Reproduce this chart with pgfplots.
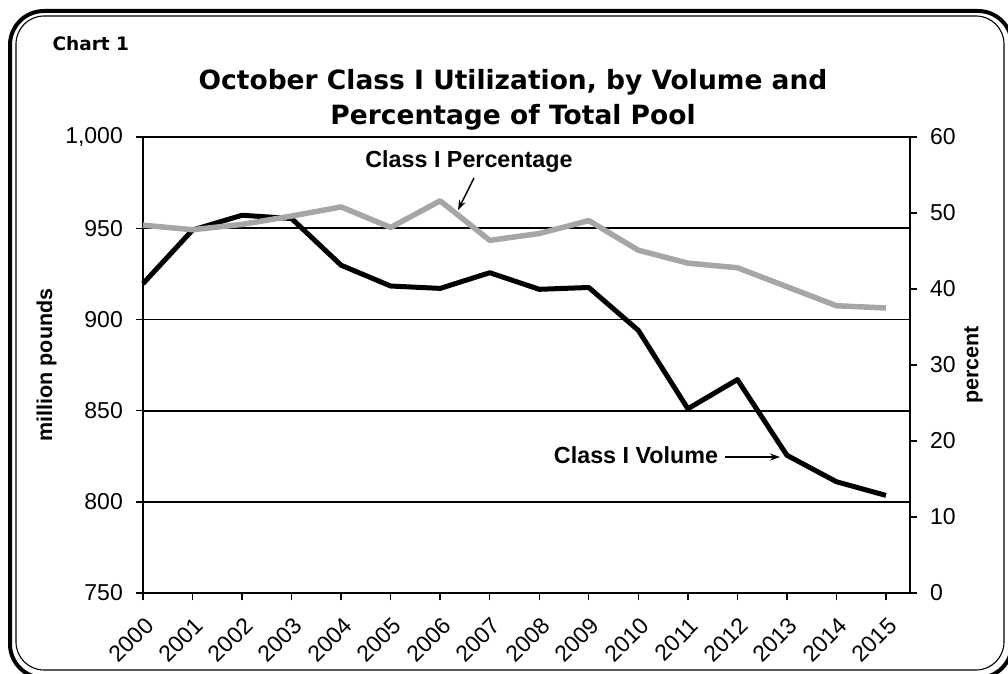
\documentclass[border=0pt]{standalone}
\usepackage{fontspec}
\setmainfont{Liberation Sans}
\newfontfamily\titlefont{DejaVu Sans}
\usepackage{pgfplots}
\pgfplotsset{compat=1.18}
\usetikzlibrary{arrows.meta}
\definecolor{pctgray}{HTML}{A6A6A6}

\begin{document}
\begin{tikzpicture}
\path[use as bounding box] (0pt,0pt) rectangle (1008pt,673pt);
\begin{scope}[x=1pt,y=1pt]
% frame
\begin{scope}
\clip (0,0) rectangle (1008,673);
\draw[line width=4pt, rounded corners=34pt] (10,-5) rectangle (1012,662);
\draw[line width=1.1pt, rounded corners=28pt] (16,3) rectangle (1004,657);
\end{scope}
\node[font=\titlefont\bfseries\fontsize{18.5}{22}\selectfont, anchor=west] at (49,629) {Chart 1};
\node[font=\titlefont\bfseries\fontsize{26.5}{35}\selectfont, align=center] at (513,573)
  {October Class I Utilization, by Volume and\\Percentage of Total Pool};
\end{scope}

% left axis: volume
\begin{axis}[
  at={(143pt,80pt)}, anchor=south west,
  width=767pt, height=456pt, scale only axis,
  xmin=2000, xmax=2015.485,
  ymin=750, ymax=1000,
  xtick={2000,2001,...,2015},
  ytick={750,800,...,1000},
  xtick pos=bottom, ytick pos=left,
  tick align=outside,
  major tick length=7pt,
  tick style={black, line width=1.4pt},
  axis line style={black, line width=2.2pt},
  ymajorgrids, grid style={black, line width=1.8pt},
  /pgf/number format/assume math mode=true,
  xticklabel shift=15pt,
  x tick label style={/pgf/number format/1000 sep={}, rotate=45, anchor=north east,
    font=\fontsize{23}{26}\selectfont, inner sep=1pt, xshift=1pt},
  y tick label style={font=\fontsize{23}{26}\selectfont, inner sep=5pt, xshift=-8pt},
  ylabel={million pounds},
  ylabel style={font=\bfseries\fontsize{21.5}{25}\selectfont},
  clip=false,
]
\addplot[black, line width=5pt, line join=round] coordinates {
  (2000,919.6) (2001,949.0) (2002,957.1) (2003,955.3) (2004,929.7)
  (2005,918.3) (2006,917.0) (2007,925.6) (2008,916.5) (2009,917.5)
  (2010,894.0) (2011,851.0) (2012,867.0) (2013,825.5) (2014,811.0)
  (2015,803.5)
};
\end{axis}

% right axis: percent
\begin{axis}[
  at={(143pt,80pt)}, anchor=south west,
  width=767pt, height=456pt, scale only axis,
  xmin=2000, xmax=2015.485,
  ymin=0, ymax=60,
  ytick={0,10,...,60},
  axis x line=none,
  axis y line*=right,
  tick align=outside,
  major tick length=7pt,
  tick style={black, line width=1.4pt},
  y axis line style={black, line width=2.2pt, -},
  /pgf/number format/assume math mode=true,
  y tick label style={font=\fontsize{23}{26}\selectfont, inner sep=5pt, xshift=8pt},
  ylabel={percent},
  ylabel style={font=\bfseries\fontsize{21.5}{25}\selectfont},
  clip=false,
]
\addplot[pctgray, line width=5.5pt, line join=round] coordinates {
  (2000,48.4) (2001,47.8) (2002,48.5) (2003,49.6) (2004,50.8)
  (2005,48.1) (2006,51.6) (2007,46.4) (2008,47.3) (2009,49.0)
  (2010,45.1) (2011,43.4) (2012,42.8) (2013,40.3) (2014,37.8)
  (2015,37.5)
};
\end{axis}

% annotations
\begin{scope}[x=1pt,y=1pt]
\node[font=\bfseries\fontsize{23.3}{27}\selectfont] at (469,511) {Class I Percentage};
\draw[line width=1.5pt, -{Stealth[length=10pt,width=7pt]}] (474,495) -- (458,463);
\node[font=\bfseries\fontsize{23.3}{27}\selectfont] at (636,218) {Class I Volume};
\draw[line width=1.5pt, -{Stealth[length=10pt,width=7pt]}] (725,216) -- (780,216);
\end{scope}
\end{tikzpicture}
\end{document}
